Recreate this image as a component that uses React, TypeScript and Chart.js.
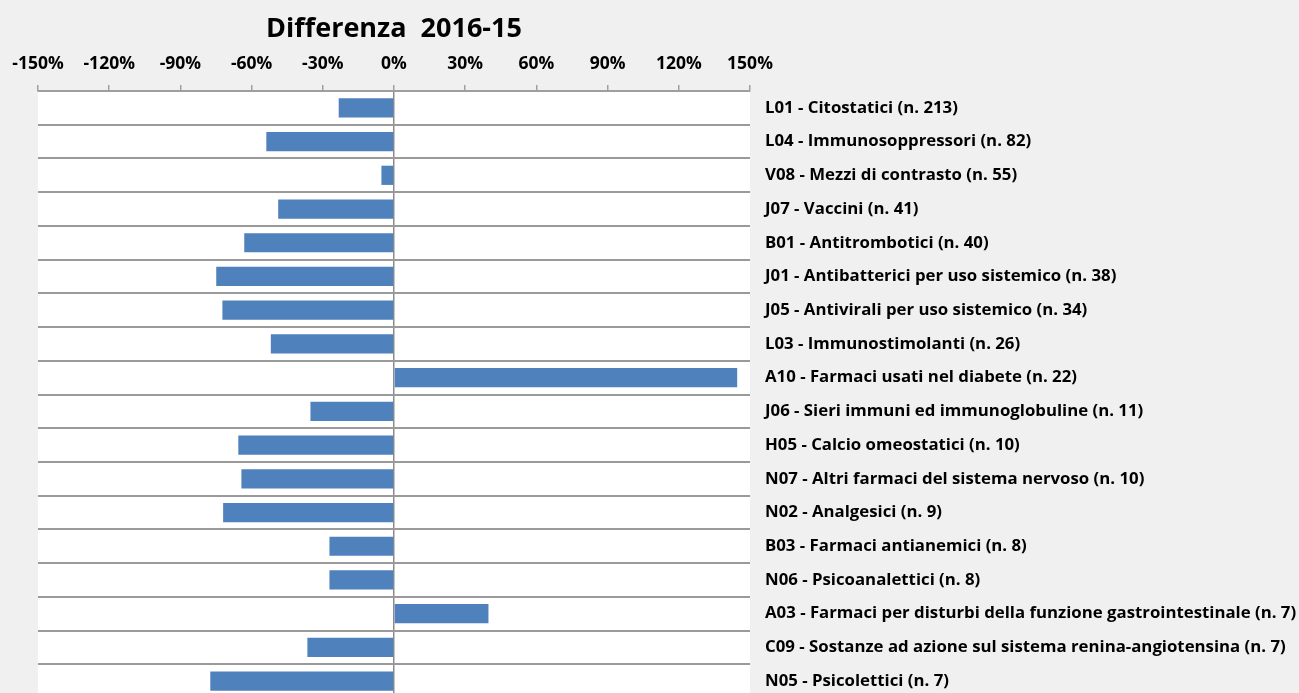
import React, { useEffect, useRef } from "react";
import { Chart, registerables } from "chart.js";

Chart.register(...registerables);

const categories = [
  "L01 - Citostatici (n. 213)",
  "L04 - Immunosoppressori (n. 82)",
  "V08 - Mezzi di contrasto (n. 55)",
  "J07 - Vaccini (n. 41)",
  "B01 - Antitrombotici (n. 40)",
  "J01 - Antibatterici per uso sistemico (n. 38)",
  "J05 - Antivirali per uso sistemico (n. 34)",
  "L03 - Immunostimolanti (n. 26)",
  "A10 - Farmaci usati nel diabete (n. 22)",
  "J06 - Sieri immuni ed immunoglobuline (n. 11)",
  "H05 - Calcio omeostatici (n. 10)",
  "N07 - Altri farmaci del sistema nervoso (n. 10)",
  "N02 - Analgesici (n. 9)",
  "B03 - Farmaci antianemici (n. 8)",
  "N06 - Psicoanalettici (n. 8)",
  "A03 - Farmaci per disturbi della funzione gastrointestinale (n. 7)",
  "C09 - Sostanze ad azione sul sistema renina-angiotensina (n. 7)",
  "N05 - Psicolettici (n. 7)",
];

const differenza = [
  -23.3, -53.8, -5.3, -48.8, -63.1, -74.9, -72.3, -51.9, 144.6, -35.2,
  -65.6, -64.3, -72.0, -27.2, -27.2, 39.8, -36.5, -77.4,
];

const xMin = -150;
const xMax = 150;
const xStep = 30;
const chartTitle = "Differenza  2016-15";

const FONT = "'Open Sans', 'DejaVu Sans', sans-serif";

export default function App() {
  const ref = useRef<HTMLCanvasElement>(null);

  useEffect(() => {
    document.body.style.margin = "0";
    document.body.style.overflow = "hidden";
    const bgPlugin = {
      id: "bg",
      beforeDraw(chart: any) {
        const { ctx, chartArea } = chart;
        ctx.save();
        ctx.fillStyle = "#f0f0f0";
        ctx.fillRect(0, 0, chart.width, chart.height);
        ctx.fillStyle = "#ffffff";
        ctx.fillRect(chartArea.left, chartArea.top, chartArea.right - chartArea.left, chartArea.bottom - chartArea.top);
        ctx.restore();
      },
    };
    const titlePlugin = {
      id: "customTitle",
      afterDraw(chart: any) {
        const { ctx, chartArea } = chart;
        ctx.save();
        ctx.font = `bold 27px ${FONT}`;
        ctx.fillStyle = "#000";
        ctx.textAlign = "center";
        ctx.textBaseline = "middle";
        const cx = (chartArea.left + chartArea.right) / 2;
        ctx.fillText(chartTitle, cx, 29);
        ctx.restore();
      },
    };
    const chart = new Chart(ref.current!, {
      type: "bar",
      data: {
        labels: categories,
        datasets: [
          {
            data: differenza,
            backgroundColor: "#4f81bd",
            borderWidth: 0,
            barPercentage: 0.57,
            categoryPercentage: 1,
          },
        ],
      },
      options: {
        indexAxis: "y",
        animation: false,
        responsive: false,
        layout: { padding: { left: 38, top: 0, right: 0, bottom: 0 } },
        plugins: {
          legend: { display: false },
          tooltip: { enabled: false },
          title: { display: false },
        },
        scales: {
          x: {
            position: "top",
            min: xMin,
            max: xMax,
            ticks: {
              stepSize: xStep,
              autoSkip: false,
              maxRotation: 0,
              padding: 10,
              color: "#000",
              font: { family: FONT, size: 17.5, weight: "bold" },
              callback: (v: any) => v + "%",
            },
            grid: {
              color: (ctx: any) => (ctx.tick && ctx.tick.value === 0 ? "#8c8c8c" : "rgba(0,0,0,0)"),
              lineWidth: 1.5,
              tickColor: "#a0a0a0",
              tickLength: 6,
            },
            border: { display: true, color: "#a0a0a0", width: 1.5 },
            afterFit: (s: any) => {
              s.height = 91;
            },
          },
          y: {
            position: "right",
            ticks: {
              crossAlign: "near",
              padding: 15,
              color: "#000",
              font: { family: FONT, size: 16.8, weight: "bold" },
              autoSkip: false,
            },
            grid: {
              offset: true,
              color: "#9a9a9a",
              lineWidth: 2,
              drawTicks: false,
            },
            border: { display: false },
            afterFit: (s: any) => {
              s.width = 1299 - 750;
              s.paddingTop = 0;
              s.paddingBottom = 0;
            },
          },
        },
      },
      plugins: [bgPlugin, titlePlugin],
    });
    return () => chart.destroy();
  }, []);

  return (
    <div style={{ width: 1299, height: 693, overflow: "hidden", background: "#f0f0f0" }}>
      <canvas ref={ref} width={1299} height={698} style={{ display: "block" }} />
    </div>
  );
}
